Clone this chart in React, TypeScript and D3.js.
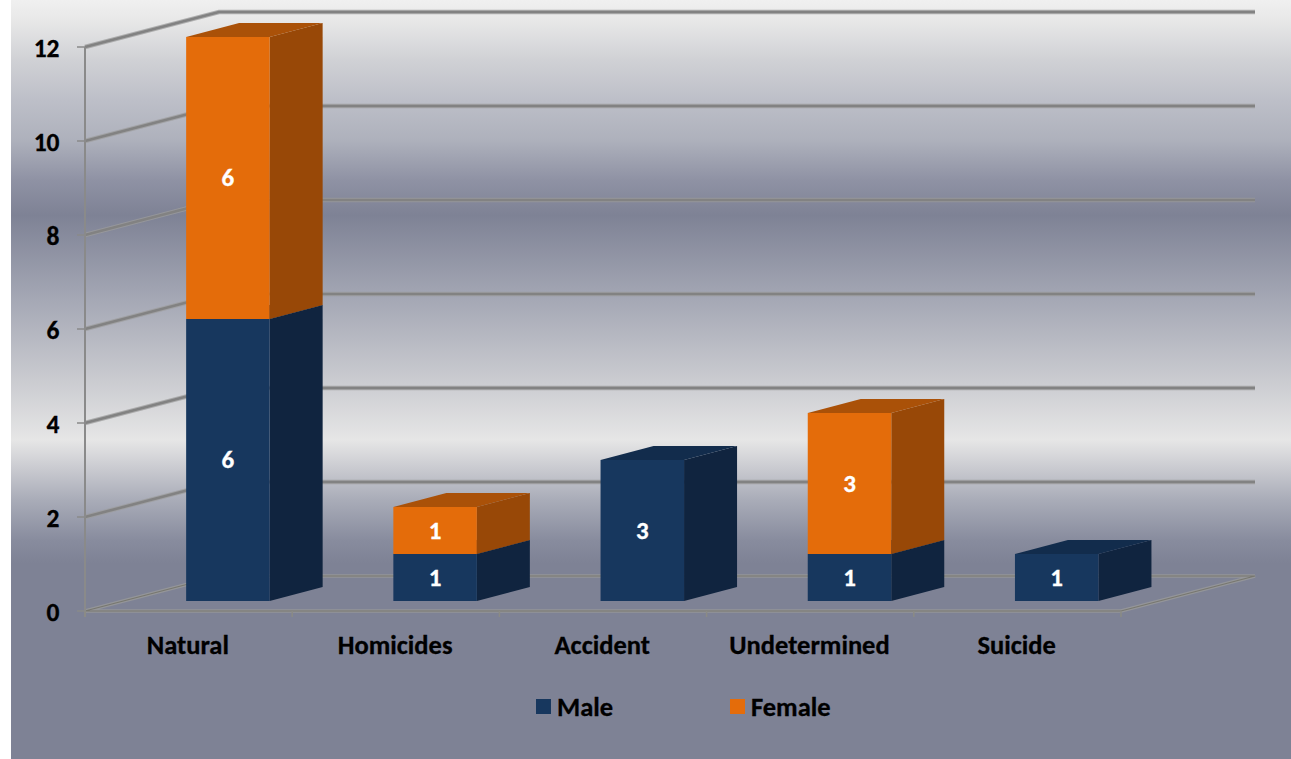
import React from "react";
import * as d3 from "d3";

const categories = ["Natural", "Homicides", "Accident", "Undetermined", "Suicide"];
const maleValues = [6, 1, 3, 1, 1];
const femaleValues = [6, 1, 0, 3, 0];
const yTicks = [0, 2, 4, 6, 8, 10, 12];
const seriesNames = ["Male", "Female"];

const W = 1291, H = 759;
const FONT = "Carlito, Calibri, 'Open Sans', 'Noto Sans', sans-serif";

const xBand = d3.scaleBand<string>().domain(categories).range([85, 1121]);
const yFront = d3.scaleLinear().domain([0, 12]).range([611, 47]);
const yBack = d3.scaleLinear().domain([0, 12]).range([576, 12]);
const yBar = d3.scaleLinear().domain([0, 12]).range([601, 37]);

const wallDx = 134, barDx = 53, barDy = -14, barW = 83.5, barShift = 39.3;

const palette: Record<string, { front: string; side: string; top: string }> = {
  Male: { front: "#17375e", side: "#10243f", top: "#122c4c" },
  Female: { front: "#e46c0a", side: "#984807", top: "#aa5108" },
};

const bgStopY: [number, string][] = [
  [0, "#f0f0f0"], [20, "#e8e8e8"], [60, "#d0d1d5"], [100, "#bdbfc8"], [140, "#aeb1bc"],
  [180, "#8f92a4"], [215, "#7e8295"], [300, "#a5a8b5"], [380, "#cacbd0"], [440, "#e6e6e6"],
  [470, "#c8c9cf"], [500, "#a9acb8"], [540, "#888c9e"], [563, "#7e8295"], [759, "#7e8295"],
];

function Bar({ cat, from, value, series }: { cat: string; from: number; value: number; series: string }) {
  if (!value) return null;
  const c = palette[series];
  const x0 = (xBand(cat) as number) + xBand.bandwidth() / 2 + barShift - barW / 2;
  const x1 = x0 + barW;
  const yb = yBar(from), yt = yBar(from + value);
  const pts = (p: number[][]) => p.map((q) => q.join(",")).join(" ");
  return (
    <g>
      <polygon points={pts([[x1, yb], [x1 + barDx, yb + barDy], [x1 + barDx, yt + barDy], [x1, yt]])} fill={c.side} />
      <polygon points={pts([[x0, yt], [x0 + barDx, yt + barDy], [x1 + barDx, yt + barDy], [x1, yt]])} fill={c.top} />
      <rect x={x0} y={yt} width={barW} height={yb - yt} fill={c.front} />
      <text x={(x0 + x1) / 2} y={(yb + yt) / 2 + 8} textAnchor="middle" fill="#fff" stroke="#fff" strokeWidth={0.3} fontSize={25} fontWeight={700} fontFamily={FONT}>{value}</text>
    </g>
  );
}

export default function App() {
  const x0 = 85, x1 = 1121;
  return (
    <svg width={W} height={H} style={{ position: "absolute", left: 0, top: 0 }}>
      <defs>
        <linearGradient id="bg" gradientUnits="userSpaceOnUse" x1="0" y1="0" x2="0" y2={H}>
          {bgStopY.map(([y, c], i) => <stop key={i} offset={y / H} stopColor={c} />)}
        </linearGradient>
      </defs>
      <rect x={0} y={0} width={W} height={H} fill="#fff" />
      <rect x={11} y={0} width={W - 11} height={H} fill="url(#bg)" />

      {/* floor */}
      <polygon points={`${x0},${yFront(0)} ${x0 + wallDx},${yBack(0)} ${x1 + wallDx},${yBack(0)} ${x1},${yFront(0)}`} fill="none" stroke="#a5a59c" strokeWidth={3.5} strokeOpacity={0.55} />
      <polygon points={`${x0},${yFront(0)} ${x0 + wallDx},${yBack(0)} ${x1 + wallDx},${yBack(0)} ${x1},${yFront(0)}`} fill="none" stroke="#77776f" strokeWidth={1.2} />

      {/* gridlines */}
      {yTicks.filter((t) => t > 0).map((t) => {
        const p = `${x0},${yFront(t)} ${x0 + wallDx},${yBack(t)} ${x1 + wallDx},${yBack(t)}`;
        return (
          <g key={t} fill="none">
            <polyline points={p} stroke="#9c9c9c" strokeWidth={4.5} strokeOpacity={0.75} />
            <polyline points={p} stroke="#828282" strokeWidth={2.6} />
          </g>
        );
      })}
      {/* y axis */}
      <line x1={x0} x2={x0} y1={yFront(0) + 6} y2={yFront(12)} stroke="#8a8a8a" strokeWidth={2} />
      {yTicks.map((t) => (
        <line key={t} x1={x0 - 8} x2={x0} y1={yFront(t)} y2={yFront(t)} stroke="#8a8a8a" strokeWidth={1.5} />
      ))}
      {/* category ticks */}
      {categories.map((c) => (
        <line key={c} x1={xBand(c) as number} x2={xBand(c) as number} y1={yFront(0)} y2={yFront(0) + 6} stroke="#8b8b85" strokeWidth={1.5} />
      ))}
      <line x1={x1} x2={x1} y1={yFront(0)} y2={yFront(0) + 6} stroke="#8b8b85" strokeWidth={1.5} />

      {yTicks.map((t) => (
        <text key={t} x={59.5} y={yFront(t) + 10} textAnchor="end" stroke="#000" strokeWidth={0.3} fontSize={25.5} fontWeight={700} fill="#000" fontFamily={FONT}>{t}</text>
      ))}
      {categories.map((c) => (
        <text key={c} x={(xBand(c) as number) + xBand.bandwidth() / 2 - 0.7} y={654} textAnchor="middle" stroke="#000" strokeWidth={0.3} fontSize={26.5} fontWeight={700} fill="#000" fontFamily={FONT}>{c}</text>
      ))}

      {categories.map((c, i) => (
        <g key={c}>
          <Bar cat={c} from={0} value={maleValues[i]} series={seriesNames[0]} />
          <Bar cat={c} from={maleValues[i]} value={femaleValues[i]} series={seriesNames[1]} />
        </g>
      ))}

      {seriesNames.map((s, i) => {
        const lx = i === 0 ? 536 : 730;
        return (
          <g key={s}>
            <rect x={lx} y={699} width={15} height={15} fill={palette[s].front} />
            <text x={lx + 21} y={716} stroke="#000" strokeWidth={0.3} fontSize={26.5} fontWeight={700} fill="#000" fontFamily={FONT}>{s}</text>
          </g>
        );
      })}
    </svg>
  );
}
